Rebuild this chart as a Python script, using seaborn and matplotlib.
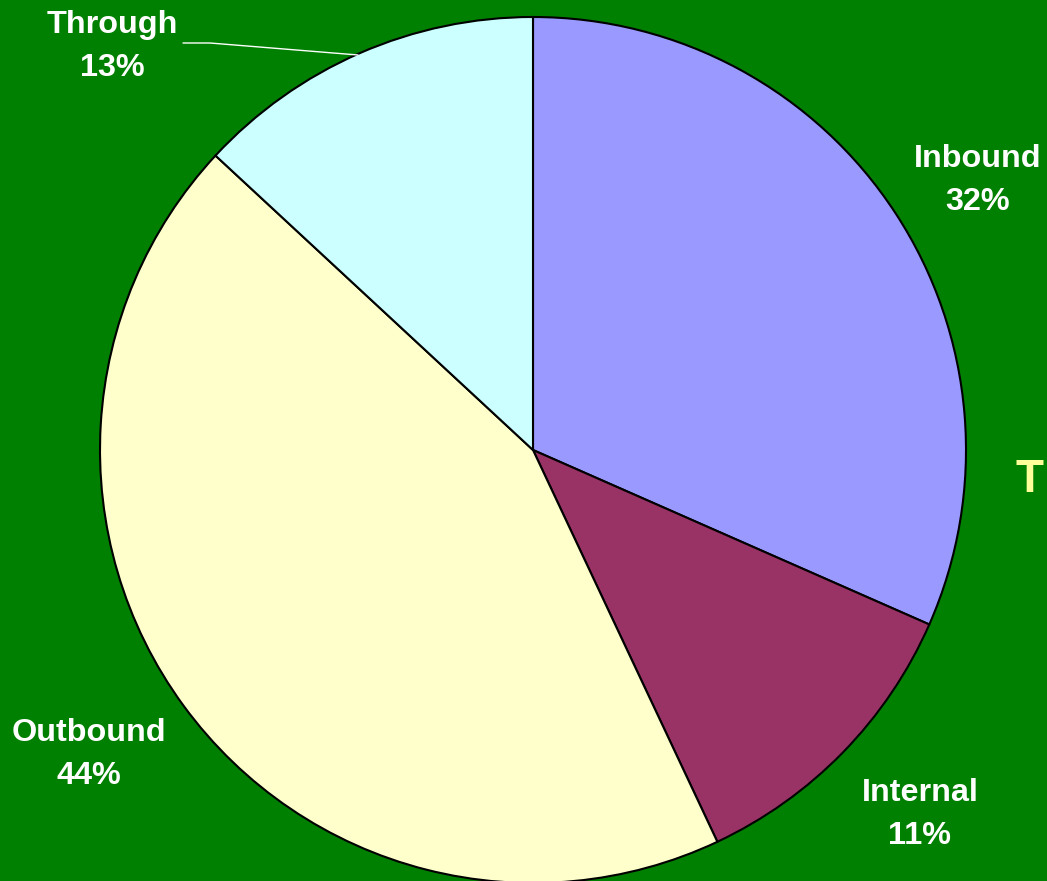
import matplotlib
matplotlib.use("Agg")
import matplotlib.pyplot as plt
import seaborn as sns

# trip type shares, clockwise from 12 o'clock
categories = ["Inbound", "Internal", "Outbound", "Through"]
shares = [31.6, 11.4, 43.9, 13.1]
colors = ["#9999FF", "#993366", "#FFFFCC", "#CCFFFF"]

sns.set_style("white")
plt.rcParams["font.family"] = ["Liberation Sans", "DejaVu Sans"]

W, H = 1047, 881
fig = plt.figure(figsize=(W / 100, H / 100), dpi=100, facecolor="#008000")
ax = fig.add_axes([0, 0, 1, 1])
ax.set_facecolor("#008000")

cx, cy, r = 533, H - 450, 433
ax.pie(shares, colors=colors, startangle=90, counterclock=False,
       center=(cx, cy), radius=r, frame=True,
       wedgeprops=dict(edgecolor="black", linewidth=1.5))
ax.set_xlim(0, W)
ax.set_ylim(0, H)
ax.axis("off")

# label placement (pixels from top-left)
label_pos = {
    "Inbound": (978, 159),
    "Internal": (920, 793),
    "Outbound": (89, 733),
    "Through": (112, 25),
}
for cat, val in zip(categories, shares):
    x, y = label_pos[cat]
    ax.text(x, H - y, cat, color="white", fontsize=23.3, fontweight="bold",
            ha="center", va="center")
    ax.text(x, H - y - 43, f"{val:.0f}%", color="white", fontsize=23.3,
            fontweight="bold", ha="center", va="center")

# leader line for Through
ax.plot([183, 210, 358], [H - 43, H - 43, H - 55], color="white", lw=1)

# cut-off title letter on the right edge
ax.text(1016, H - 480, "T", color="#FFFF99", fontsize=33, fontweight="bold",
        ha="left", va="center")

fig.savefig("out.png", dpi=100, facecolor=fig.get_facecolor())
